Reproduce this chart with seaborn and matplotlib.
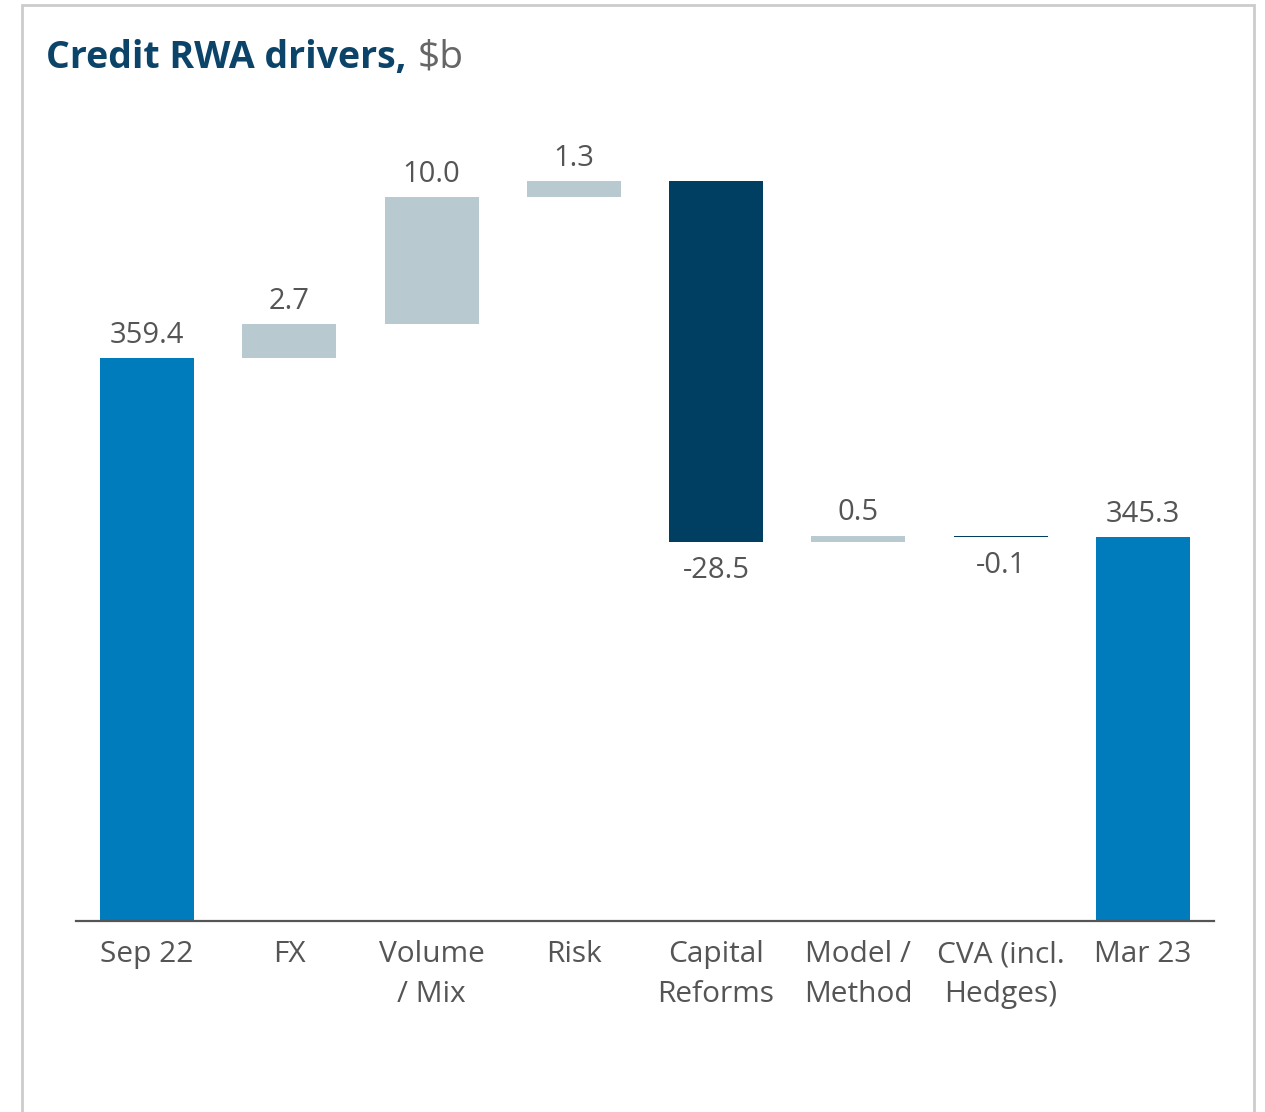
import matplotlib
matplotlib.use("Agg")
import matplotlib.pyplot as plt
import seaborn as sns
import numpy as np
import pandas as pd
from matplotlib.patches import Rectangle

# ---- data ----
categories = ["Sep 22", "FX", "Volume\n/ Mix", "Risk", "Capital\nReforms",
              "Model /\nMethod", "CVA (incl.\nHedges)", "Mar 23"]
start_value = 359.4
changes = [2.7, 10.0, 1.3, -28.5, 0.5, -0.1]
end_value = 345.3
labels = ["359.4", "2.7", "10.0", "1.3", "-28.5", "0.5", "-0.1", "345.3"]

y_floor = 315.0

# build waterfall geometry from the values
bottoms, heights, kinds = [], [], []
bottoms.append(y_floor); heights.append(start_value - y_floor); kinds.append("total")
running = start_value
for c in changes:
    if c >= 0:
        bottoms.append(running); heights.append(c); kinds.append("pos")
    else:
        bottoms.append(running + c); heights.append(-c); kinds.append("neg")
    running += c
bottoms.append(y_floor); heights.append(end_value - y_floor); kinds.append("total")

df = pd.DataFrame({"category": categories, "height": heights, "bottom": bottoms, "kind": kinds})

colors = {"total": "#007bbb", "pos": "#b8c9d0", "neg": "#003f62"}

sns.set_theme(style="white")
plt.rcParams["font.family"] = ["Open Sans", "DejaVu Sans"]

fig = plt.figure(figsize=(12.65, 11.12), dpi=100)
ax = fig.add_axes([76/1265, 1-921/1112, (1214-76)/1265, (921-110)/1112])

sns.barplot(data=df, x="category", y="height", bottom=df["bottom"].values,
            order=categories, width=0.66, ax=ax, color="#007bbb", saturation=1)
for patch, k in zip(ax.patches, df["kind"]):
    patch.set_facecolor(colors[k])
    patch.set_edgecolor("none")

ax.set_xlim(-0.5, len(categories) - 0.5)
ax.set_ylim(y_floor, 379)

for i, (b, h, k, lab) in enumerate(zip(df["bottom"], df["height"], df["kind"], labels)):
    if k == "neg":
        ax.annotate(lab, (i, b), xytext=(0, -10), textcoords="offset points",
                    ha="center", va="top", fontsize=21, color="#555555")
    else:
        ax.annotate(lab, (i, b + h), xytext=(0, 6), textcoords="offset points",
                    ha="center", va="bottom", fontsize=21, color="#555555")

for s in ["top", "right", "left"]:
    ax.spines[s].set_visible(False)
ax.spines["bottom"].set_color("#555555")
ax.spines["bottom"].set_linewidth(1.6)
ax.set_yticks([])
ax.set_xlabel("")
ax.set_ylabel("")
ax.tick_params(axis="x", length=0, pad=14, labelsize=21.5, labelcolor="#555555")
for t in ax.get_xticklabels():
    t.set_linespacing(1.5)
    t.set_verticalalignment("top")

# frame
fig.patches.append(Rectangle((22/1265, -0.05), (1254-22)/1265, 1.05 - 5/1112,
                             transform=fig.transFigure, fill=False,
                             edgecolor="#cccccc", linewidth=2))

# title
t1 = fig.text(46/1265, 1-68/1112, "Credit RWA drivers,", fontsize=27, fontweight="bold",
              color="#0b4468", ha="left", va="baseline")
fig.canvas.draw()
bb = t1.get_window_extent()
fig.text((bb.x1 + 11)/1265, 1-68/1112, "$b", fontsize=28, color="#666666",
         ha="left", va="baseline")

fig.savefig("out.png", dpi=100)
